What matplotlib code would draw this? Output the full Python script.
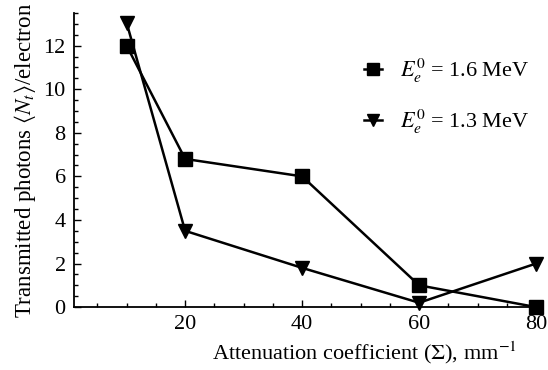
import matplotlib.pyplot as plt
from matplotlib.ticker import MultipleLocator

plt.rcParams.update({
    "font.family": ["Liberation Serif", "DejaVu Serif"],
    "mathtext.fontset": "stix",
    "font.size": 16,
})

x = [10, 20, 40, 60, 80]
y_16 = [12.0, 6.8, 6.0, 1.0, 0.0]
y_13 = [13.05, 3.5, 1.8, 0.2, 2.0]
labels = [r"$E_e^0$ = 1.6 MeV", r"$E_e^0$ = 1.3 MeV"]

fig = plt.figure(figsize=(5.48, 3.70), dpi=100)
ax = fig.add_axes([0.135, 0.170, 0.854, 0.795])

ax.plot(x, y_16, color="black", lw=1.8, marker="s", ms=10, label=labels[0], clip_on=False, zorder=3)
ax.plot(x, y_13, color="black", lw=1.8, marker="v", ms=10, label=labels[1], clip_on=False, zorder=3)

ax.set_xlim(1, 81)
ax.set_ylim(0, 13.5)
ax.xaxis.set_major_locator(MultipleLocator(20))
ax.xaxis.set_minor_locator(MultipleLocator(5))
ax.yaxis.set_major_locator(MultipleLocator(2))
ax.yaxis.set_minor_locator(MultipleLocator(0.5))

for s in ["top", "right"]:
    ax.spines[s].set_visible(False)
for s in ["left", "bottom"]:
    ax.spines[s].set_linewidth(1.3)

ax.tick_params(which="both", direction="in", width=1.0)
ax.tick_params(which="major", length=5, labelsize=16, pad=6)
ax.tick_params(which="minor", length=3)

ax.set_xlabel(r"Attenuation coefficient ($\Sigma$), mm$^{-1}$", fontsize=16, labelpad=5)
ax.xaxis.set_label_coords(0.62, -0.11)
ax.set_ylabel(r"Transmitted photons $\langle N_t\rangle$/electron", fontsize=16.5, labelpad=4)

ax.legend(loc="upper right", bbox_to_anchor=(1.015, 0.92), frameon=False,
          handlelength=0.8, markerscale=0.8, labelspacing=1.05, handletextpad=0.8,
          fontsize=16)

fig.savefig("out.png", dpi=100)
